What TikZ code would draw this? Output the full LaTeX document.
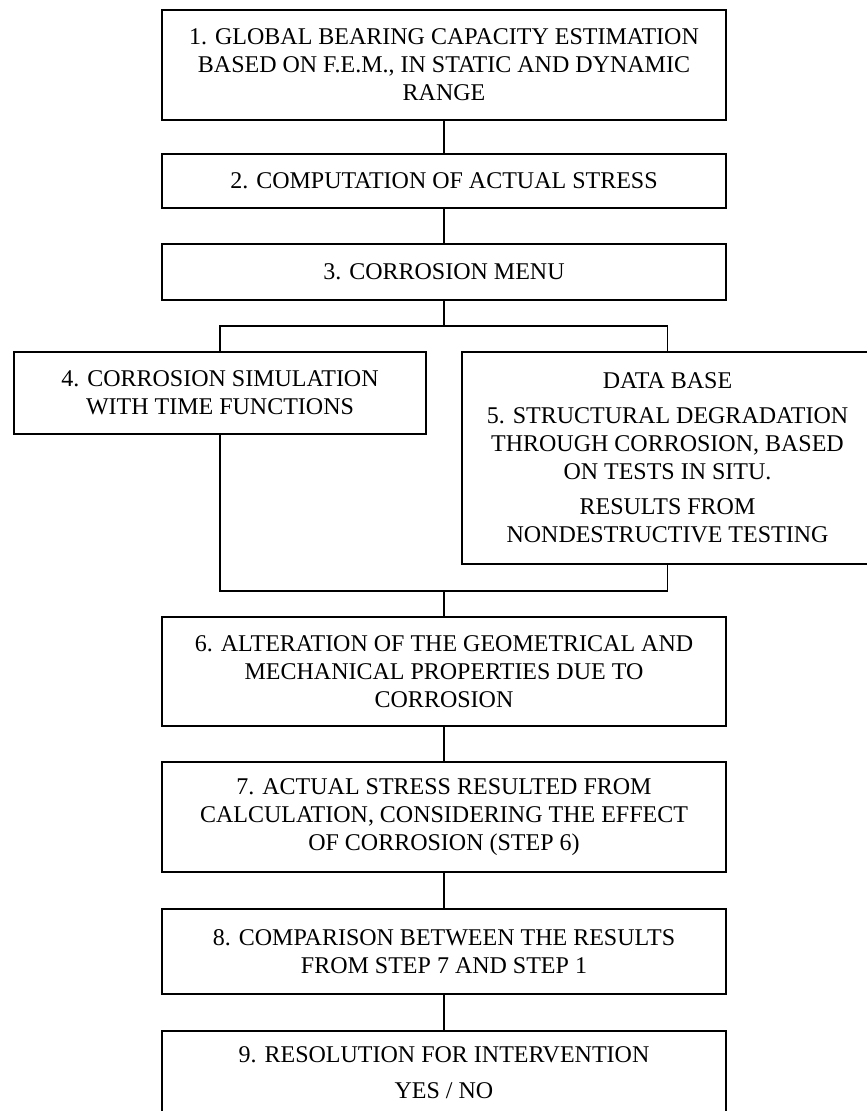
\documentclass[tikz,border=0pt]{standalone}
\usepackage{fontspec}
\setmainfont{Liberation Serif}
\begin{document}
\begin{tikzpicture}[x=1pt,y=-1pt,
  box/.style={draw, line width=1.5pt, inner sep=0pt, align=center,
    font=\fontsize{24}{28}\selectfont},
  conn/.style={line width=1.8pt}]
\useasboundingbox[fill=white] (0,0) rectangle (867,1111);
\begin{scope}
\clip (0,0) rectangle (867,1111);
\node[box, minimum width=564pt, minimum height=110pt] (b1) at (444,65)
  {1. GLOBAL BEARING CAPACITY ESTIMATION\\BASED ON F.E.M., IN STATIC AND DYNAMIC\\RANGE};
\node[box, minimum width=564pt, minimum height=54pt] (b2) at (444,181)
  {2. COMPUTATION OF ACTUAL STRESS};
\node[box, minimum width=564pt, minimum height=56pt] (b3) at (444,272)
  {3. CORROSION MENU};
\node[box, minimum width=412pt, minimum height=82pt] (b4) at (220,393)
  {4. CORROSION SIMULATION\\WITH TIME FUNCTIONS};
\node[box, minimum width=411pt, minimum height=212pt] (b5) at (667.5,458)
  {DATA BASE\\[7pt]5. STRUCTURAL DEGRADATION\\THROUGH CORROSION, BASED\\ON TESTS IN SITU.\\[7pt]RESULTS FROM\\NONDESTRUCTIVE TESTING};
\node[box, minimum width=564pt, minimum height=109pt] (b6) at (444,671.5)
  {6. ALTERATION OF THE GEOMETRICAL AND\\MECHANICAL PROPERTIES DUE TO\\CORROSION};
\node[box, minimum width=564pt, minimum height=110pt] (b7) at (444,817)
  {7. ACTUAL STRESS RESULTED FROM\\CALCULATION, CONSIDERING THE EFFECT\\OF CORROSION (STEP 6)};
\node[box, minimum width=564pt, minimum height=85pt] (b8) at (444,951.5)
  {8. COMPARISON BETWEEN THE RESULTS\\FROM STEP 7 AND STEP 1};
\node[box, minimum width=564pt, minimum height=84pt] (b9) at (444,1073)
  {9. RESOLUTION FOR INTERVENTION\\[8pt]YES / NO};
\coordinate (j1) at (444,326);
\coordinate (j2) at (444,591);
\draw[conn] (b1.south) -- (b2.north);
\draw[conn] (b2.south) -- (b3.north);
\draw[conn] (b3.south) -- (j1);
\draw[conn] (b4.north) |- (j1) -| (b5.north);
\draw[conn] (b4.south) |- (j2) -| (b5.south);
\draw[conn] (j2) -- (b6.north);
\draw[conn] (b6.south) -- (b7.north);
\draw[conn] (b7.south) -- (b8.north);
\draw[conn] (b8.south) -- (b9.north);
\end{scope}
\end{tikzpicture}
\end{document}
